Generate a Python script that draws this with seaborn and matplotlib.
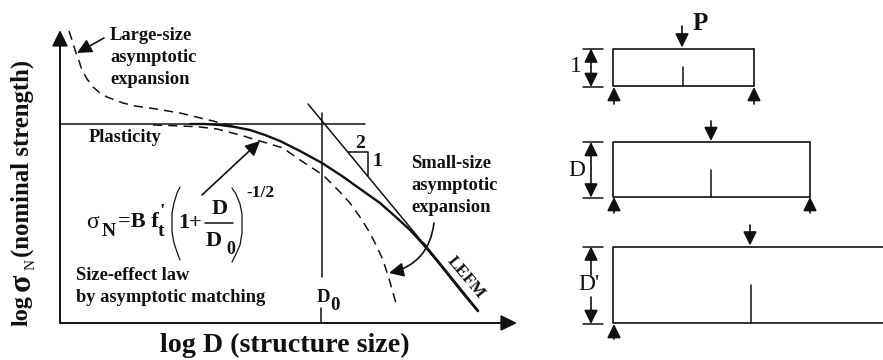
# size effect law diagram with the three notched beams on the right
# everything is in picture pixels, y pointing down
import seaborn as sns
import matplotlib.pyplot as plt

# curves in the log-log plot
law_x = [190, 205, 220, 235, 250, 265, 280, 300, 322, 342, 363, 380, 397, 410, 422, 435, 447, 462, 478]
law_y = [124, 124, 125, 127, 130, 135, 141, 151, 163, 176, 191, 203, 218, 230, 243, 258, 273, 292, 311]
large_x = [69, 72, 76, 79, 82, 87, 93, 100, 107, 115, 123, 135, 150, 180, 217, 233]
large_y = [31, 40, 53, 61, 70, 79, 87, 93, 97, 100, 103, 106, 108, 113, 122, 126]
small_x = [153, 183, 200, 217, 240, 260, 283, 300, 323, 340, 350, 360, 370, 377, 383, 390, 397]
small_y = [125, 126, 127, 129, 135, 141, 148, 160, 175, 192, 203, 217, 233, 247, 260, 282, 307]
lefm_x = [308, 423, 478]
lefm_y = [104, 243, 311]
plastic_x = [60, 365]
plastic_y = [124, 124]
d0_x = [322, 322]
d0_y = [113, 277]
d0_tick_x = [321, 321]
d0_tick_y = [308, 323]
slope_x = [348, 368, 368]
slope_y = [152, 152, 176]
frac_x = [205, 233]
frac_y = [223, 223]
paren_l_x = [180, 177, 174, 172, 172, 172, 174, 177, 180]
paren_l_y = [187, 193, 203, 213, 222, 232, 243, 252, 260]
paren_r_x = [232, 236, 240, 242, 242, 242, 240, 236, 232]
paren_r_y = [188, 194, 204, 214, 223, 233, 245, 254, 262]

# beams: left, right, top, bottom, notch x, notch top
beam_left = [613, 613, 613]
beam_right = [753.5, 810, 883]
beam_top = [48.5, 142, 246.5]
beam_bottom = [86, 196.5, 323]
notch_x = [682.5, 711, 751]
notch_top = [67, 170, 285]
load_x = [682, 711, 750]
load_top = [26, 121, 225]
dim_x = 591
dim_labels = ["1", "D", "D'"]
dim_label_x = [576, 577, 589]
dim_label_y = [66, 170, 285]
support_x = [614, 754, 614, 810, 614]
support_top = [104, 104, 213, 213, 339]
support_tip = [87, 87, 197, 197, 324]

sns.set_theme(style="white")
plt.rcParams['font.family'] = ['Liberation Serif', 'DejaVu Serif']

fig = plt.figure(figsize=(8.83, 3.6), dpi=100)
ax = fig.add_axes([0, 0, 1, 1])
ax.set_xlim(0, 883)
ax.set_ylim(360, 0)
ax.axis("off")


def line(xs, ys, lw=1.1, ls="-"):
    sns.lineplot(x=xs, y=ys, sort=False, estimator=None, color="#111111",
                 linewidth=lw, linestyle=ls, ax=ax, legend=False)


def arrow(x0, y0, x1, y1, lw=1.2, size=9.5, rad=0.0):
    ax.annotate("", xy=(x1, y1), xytext=(x0, y0),
                arrowprops=dict(arrowstyle="-|>,head_length=0.55,head_width=0.27",
                                mutation_scale=size * 1.6, lw=lw, color="#111111",
                                shrinkA=0, shrinkB=0,
                                connectionstyle=f"arc3,rad={rad}"))


def label(x, y, s, size=13.3, weight="bold", ha="left", rot=0):
    ax.text(x, y, s, fontsize=size, fontweight=weight, ha=ha, va="center",
            rotation=rot, rotation_mode="anchor", color="#111111")


# plot curves
line(law_x, law_y, lw=1.7)
line(large_x, large_y, ls=(0, (6, 4)))
line(small_x, small_y, ls=(0, (6, 4)))
line(lefm_x, lefm_y)
line(lefm_x[1:], lefm_y[1:], lw=1.9)
line(plastic_x, plastic_y)
line(d0_x, d0_y)
line(d0_tick_x, d0_tick_y)
line(slope_x, slope_y)
line(frac_x, frac_y)
line(paren_l_x, paren_l_y, lw=0.9)
line(paren_r_x, paren_r_y, lw=0.9)

# axes
arrow(60, 323, 60, 30, lw=1.4, size=11)
arrow(60, 323, 517, 323, lw=1.4, size=11)

# pointers
arrow(104, 38, 77, 53, size=10)
arrow(202, 195, 260, 141, size=10)
arrow(434, 223, 389, 273, rad=-0.35, size=10)

# axis titles
label(22, 326, "log", size=17.5, rot=90)
label(22, 291, "σ", size=23, rot=90)
label(31, 270, "N", size=11, weight="normal", rot=90)
label(22, 257, "(nominal strength)", size=17.8, rot=90)
label(160, 345, "log D (structure size)", size=20.2)

# annotations
label(110, 35, "Large-size")
label(110, 58, "asymptotic")
label(110, 80, "expansion")
label(89, 138, "Plasticity")
label(76, 275, "Size-effect law")
label(76, 297, "by asymptotic matching")
label(411, 163, "Small-size")
label(411, 186, "asymptotic")
label(411, 207, "expansion")
label(450, 258, "LEFM", size=12.5, rot=-50)
label(360, 143, "2", size=14, ha="center")
label(377, 162, "1", size=14, ha="center")
label(317, 298, "D", size=13.5)
label(330, 305, "0", size=13.5)

# equation
label(86, 222, "σ", size=17, weight="normal")
label(102, 232, "N", size=14)
label(118, 222, "=B f", size=16)
label(160, 212, "'", size=14)
label(158, 232, "t", size=14)
label(178, 223, "1+", size=16)
label(220, 209, "D", size=16, ha="center")
label(214, 241, "D", size=16, ha="center")
label(226, 250, "0", size=13)
label(246, 193, "-1/2", size=12.5)

# beams
for i in range(3):
    l, r, t, b = beam_left[i], beam_right[i], beam_top[i], beam_bottom[i]
    line([r, l, l, r], [t, t, b, b], lw=1.2)
    if r < 883:
        line([r, r], [t, b], lw=1.2)
    line([notch_x[i], notch_x[i]], [notch_top[i], b], lw=1.1)
    arrow(load_x[i], load_top[i], load_x[i], t - 1)
    line([583, 603], [t, t])
    line([583, 603], [b + 1, b + 1])
    label(dim_label_x[i], dim_label_y[i], dim_labels[i], size=17,
          weight="normal", ha="center")
    if i < 2:
        mid = (t + b) / 2
        arrow(dim_x, mid, dim_x, t)
        arrow(dim_x, mid, dim_x, b + 1)
    else:
        arrow(dim_x, 275, dim_x, t)
        arrow(dim_x, 297, dim_x, b + 1)

for x, top, tip in zip(support_x, support_top, support_tip):
    arrow(x, top, x, tip)

label(693, 23, "P", size=18)

fig.savefig("out.png", dpi=100)
